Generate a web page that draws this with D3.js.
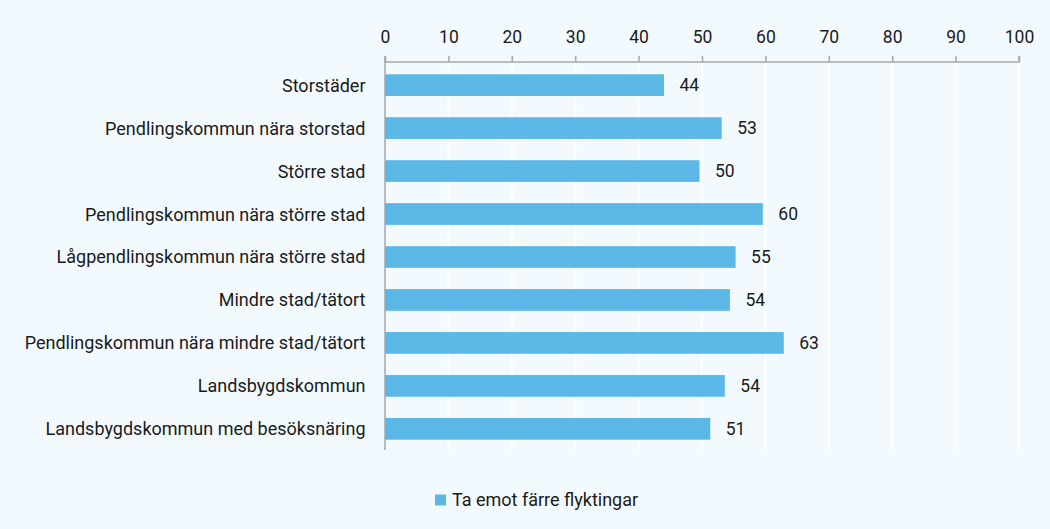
<!DOCTYPE html>
<html><head><meta charset="utf-8">
<script src="https://cdn.jsdelivr.net/npm/d3@7"></script>
<style>
html,body{margin:0;padding:0;background:#f3faff;}
svg{display:block;}
text{font-family:"Roboto","Liberation Sans",sans-serif;fill:#1a1a1a;}
</style></head>
<body><svg id="c" width="1050" height="529"></svg>
<script>
const categories = ["Storstäder","Pendlingskommun nära storstad","Större stad","Pendlingskommun nära större stad","Lågpendlingskommun nära större stad","Mindre stad/tätort","Pendlingskommun nära mindre stad/tätort","Landsbygdskommun","Landsbygdskommun med besöksnäring"];
const values = [44.0,53.1,49.6,59.6,55.3,54.4,62.9,53.6,51.3];
const valueLabels = ["44","53","50","60","55","54","63","54","51"];
const tickValues = [0,10,20,30,40,50,60,70,80,90,100];
const seriesName = "Ta emot färre flyktingar";

const svg = d3.select("#c");
svg.append("rect").attr("width",1050).attr("height",529).attr("fill","#f3faff");
const m = {left:385, right:1019, top:62, bottom:452};
const gridBottom = 450;
const x = d3.scaleLinear().domain([0,100]).range([m.left,m.right]);
const y = d3.scaleBand().domain(categories).range([m.top,m.bottom]).paddingInner(0.495).paddingOuter(0.286);

// gridlines
svg.append("g").selectAll("line").data(tickValues.slice(1)).join("line")
  .attr("x1",d=>x(d)).attr("x2",d=>x(d)).attr("y1",m.top).attr("y2",gridBottom)
  .attr("stroke","#ffffff").attr("stroke-width",2);

// bars
svg.append("g").selectAll("rect").data(values).join("rect")
  .attr("x",x(0)).attr("y",(d,i)=>y(categories[i]))
  .attr("width",d=>x(d)-x(0)).attr("height",y.bandwidth())
  .attr("fill","#5bb8e6");

// value labels
svg.append("g").selectAll("text").data(values).join("text")
  .attr("x",d=>x(d)+15.5).attr("y",(d,i)=>y(categories[i])+y.bandwidth()/2)
  .attr("dy","0.36em").attr("font-size",17.5).text((d,i)=>valueLabels[i]);

// top axis
const ax = d3.axisTop(x).tickValues(tickValues).tickSize(6).tickPadding(13);
const gx = svg.append("g").attr("transform",`translate(0,${m.top})`).call(ax);
gx.selectAll("path,line").attr("stroke","#a6a6a6").attr("stroke-width",1.5);
gx.select(".domain").attr("d",`M${m.left},-6V0H${m.right}V-6`);
gx.selectAll("text").attr("font-size",17.5).attr("fill","#1a1a1a")
  .style("font-family",'"Roboto",sans-serif');

// left axis
const ay = d3.axisLeft(y).tickSize(0).tickPadding(19.5);
const gy = svg.append("g").attr("transform",`translate(${m.left},0)`).call(ay);
gy.select(".domain").attr("d",`M0,${m.top}V${gridBottom}`).attr("stroke","#a6a6a6").attr("stroke-width",1.5);
gy.selectAll("text").attr("font-size",18).attr("fill","#1a1a1a").attr("dy","0.36em")
  .style("font-family",'"Roboto",sans-serif');

// legend
const lg = svg.append("g").attr("transform","translate(435,500)");
lg.append("rect").attr("x",0).attr("y",-5.5).attr("width",11).attr("height",11).attr("fill","#5bb8e6");
lg.append("text").attr("x",17).attr("y",0).attr("dy","0.36em").attr("font-size",18).text(seriesName);
</script></body></html>
